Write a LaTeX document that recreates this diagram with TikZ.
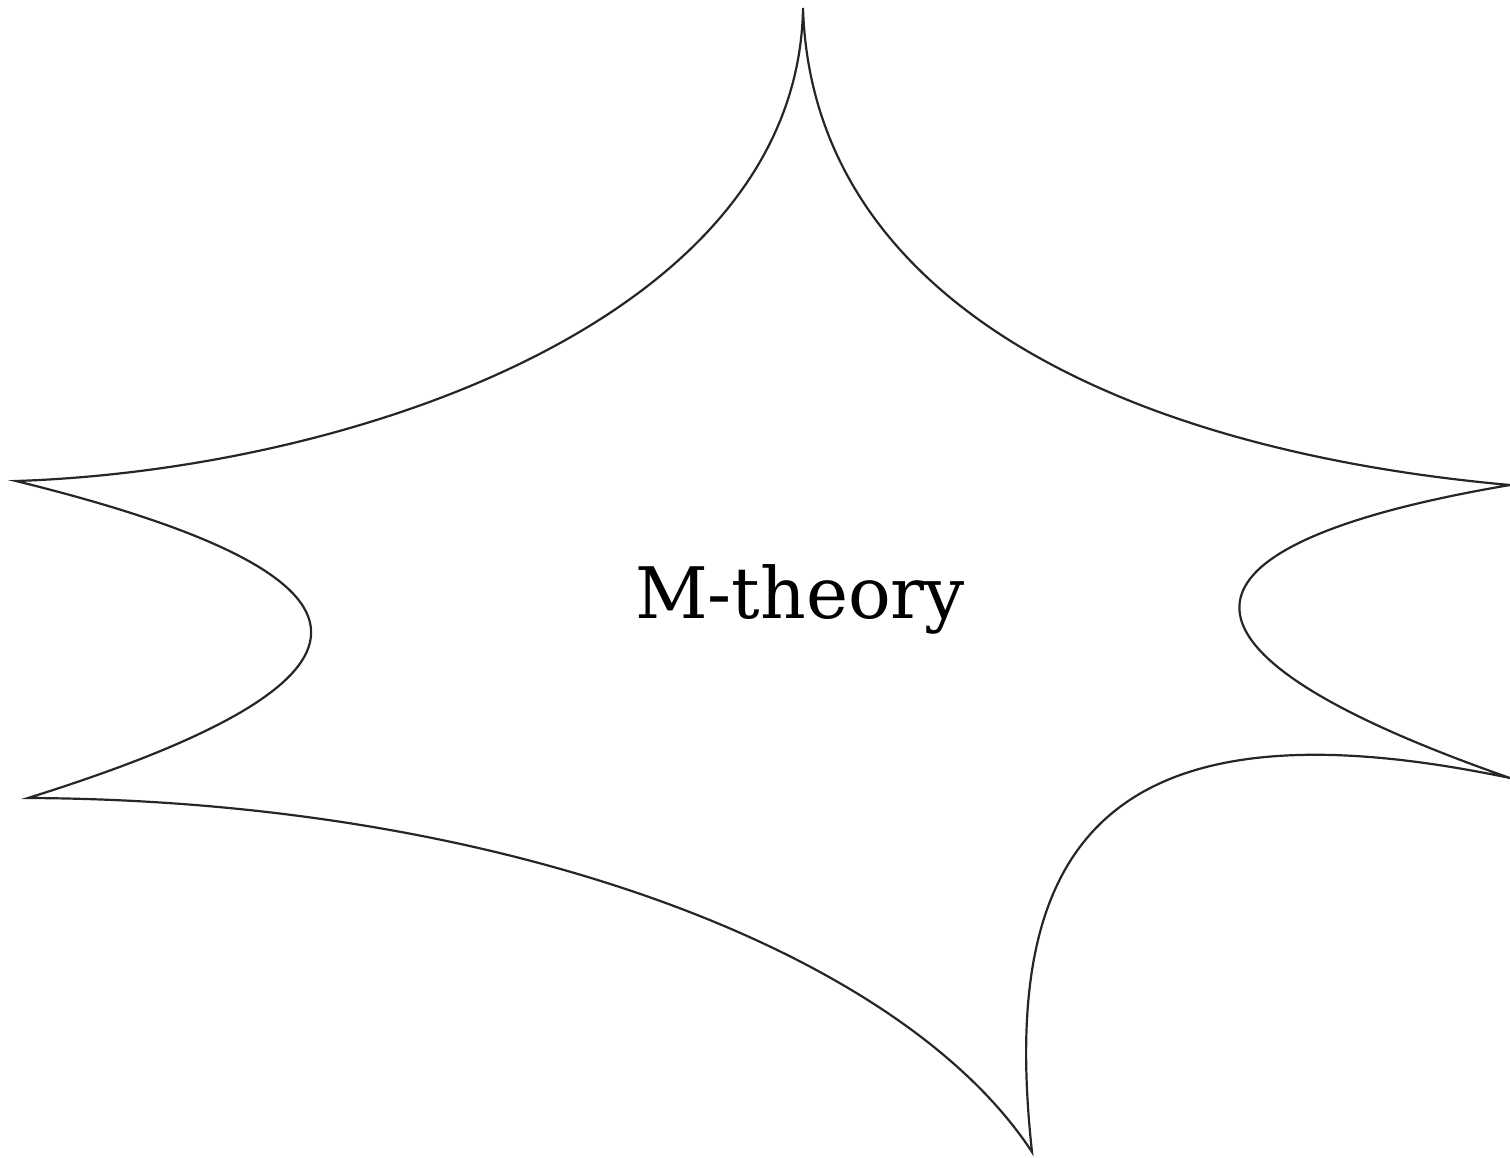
\documentclass[tikz,border=0pt]{standalone}
\usepackage{fontspec}
\setmainfont{DejaVu Serif}
\begin{document}
\begin{tikzpicture}[x=1pt,y=-1pt]
\tikzset{outline/.style={draw=black!85,line width=2.2pt,line join=miter}}
\useasboundingbox (0,0) rectangle (1510,1157);
\draw[outline] (803,8)
  .. controls (798,320) and (350,470) .. (16,481)
  .. controls (410,578) and (405,680) .. (28,798)
  .. controls (500,800) and (900,950) .. (1032,1152)
  .. controls (1000,860) and (1090,690) .. (1510,778)
  .. controls (1115,640) and (1185,540) .. (1510,485)
  .. controls (1120,450) and (812,300) .. (803,8) -- cycle;
\node[font=\fontsize{71}{80}\selectfont,anchor=base,inner sep=0pt] (label) at (800,618) {M-theory};
\end{tikzpicture}
\end{document}
